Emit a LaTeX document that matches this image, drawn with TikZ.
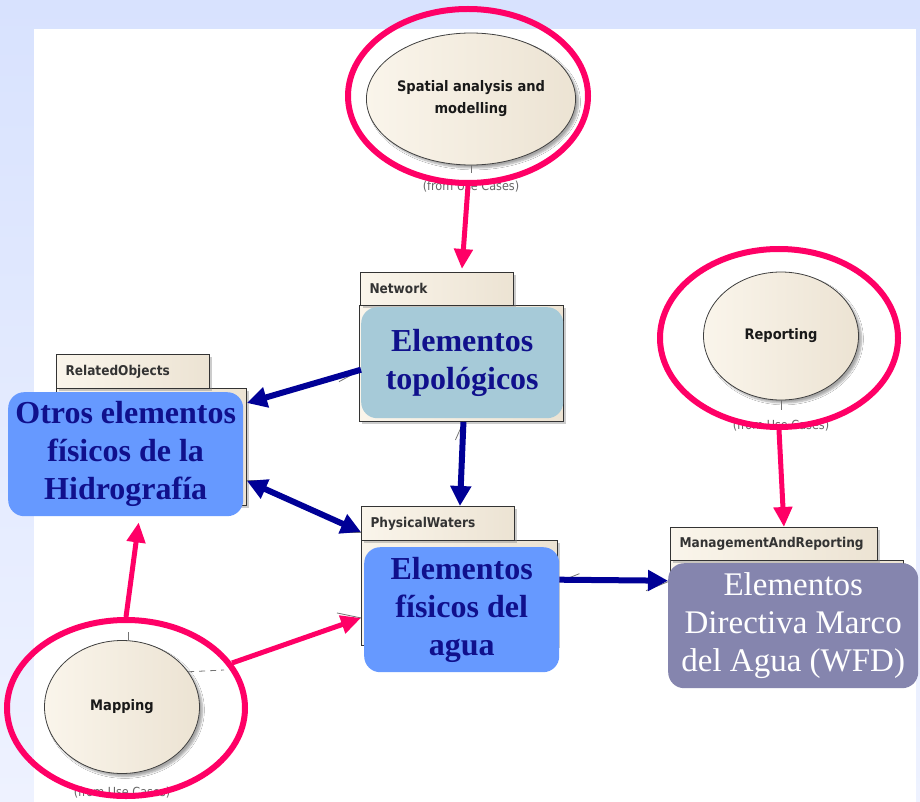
\documentclass[tikz,border=0pt]{standalone}
\usepackage{fontspec}
\setmainfont{Liberation Serif}
\newfontfamily\lblfont{DejaVu Sans Condensed}
\usetikzlibrary{shapes.geometric,arrows.meta,shadows,shadows.blur,calc}

\definecolor{bgtop}{RGB}{216,226,254}
\definecolor{bgbottom}{RGB}{238,242,255}
\definecolor{creamL}{RGB}{250,245,235}
\definecolor{creamR}{RGB}{236,227,211}
\definecolor{pkgL}{RGB}{250,245,235}
\definecolor{pkgR}{RGB}{236,227,211}
\definecolor{boxblue}{RGB}{102,153,255}
\definecolor{boxteal}{RGB}{166,202,216}
\definecolor{boxpurple}{RGB}{133,133,174}
\definecolor{navytext}{RGB}{16,16,140}
\definecolor{hotpink}{RGB}{255,0,102}
\definecolor{arrownavy}{RGB}{0,0,150}

\begin{document}
\begin{tikzpicture}[x=1pt,y=-1pt,
  usecase/.style={ellipse, draw=black!75, line width=0.8pt, left color=creamL, right color=creamR,
    inner sep=0pt, align=center, text=black!90, font=\lblfont\bfseries\fontsize{14.5}{22}\selectfont,
    blur shadow={shadow xshift=3pt, shadow yshift=-3pt, shadow blur steps=6, shadow opacity=35}},
  ring/.style={ellipse, draw=hotpink, line width=6pt, inner sep=0pt},
  pkgpart/.style={draw=black!80, line width=0.9pt, left color=pkgL, right color=pkgR,
    inner sep=0pt, anchor=north west,
    drop shadow={shadow xshift=3pt, shadow yshift=-3pt, opacity=0.4}},
  tabtext/.style={font=\lblfont\bfseries\fontsize{13.5}{16}\selectfont, text=black!80, anchor=west},
  hydrobox/.style={rounded corners=16pt, inner sep=0pt, anchor=north west, align=center,
    font=\bfseries\fontsize{32}{38}\selectfont, text=navytext},
  fromtext/.style={font=\lblfont\fontsize{12.5}{14}\selectfont, text=black!60, anchor=north},
  umlline/.style={draw=black!55, line width=0.8pt},
  navyarrow/.style={draw=arrownavy, line width=6pt, -{Triangle[length=20pt,width=20pt]}},
  navyboth/.style={draw=arrownavy, line width=6pt, {Triangle[length=20pt,width=20pt]}-{Triangle[length=20pt,width=20pt]}},
  pinkarrow/.style={draw=hotpink, line width=5pt, -{Triangle[length=20pt,width=18pt]}}
]
\useasboundingbox (0,0) rectangle (920,802);

% page background and white drawing area
\fill[top color=bgtop, bottom color=bgbottom] (0,0) rectangle (920,802);
\fill[white] (34,29) rectangle (916,802);

% packages: tab + body
\node[pkgpart, minimum width=190pt, minimum height=117pt] (relbody) at (56,388) {};
\node[pkgpart, minimum width=153pt, minimum height=34pt] (reltab) at (56,354) {};
\node[tabtext] at ([xshift=6pt]reltab.west) {RelatedObjects};

\node[pkgpart, minimum width=204pt, minimum height=116pt] (netbody) at (359,305) {};
\node[pkgpart, minimum width=153pt, minimum height=33pt] (nettab) at (360,272) {};
\node[tabtext] at ([xshift=6pt]nettab.west) {Network};

\node[pkgpart, minimum width=196pt, minimum height=105pt] (phybody) at (361,540) {};
\node[pkgpart, minimum width=153pt, minimum height=34pt] (phytab) at (361,506) {};
\node[tabtext] at ([xshift=6pt]phytab.west) {PhysicalWaters};

\node[pkgpart, minimum width=233pt, minimum height=110pt] (mgmtbody) at (670,560) {};
\node[pkgpart, minimum width=207pt, minimum height=33pt] (mgmttab) at (670,527) {};
\node[tabtext] at ([xshift=6pt]mgmttab.west) {ManagementAndReporting};

% coloured boxes laid over the packages
\node[hydrobox, fill=boxblue, minimum width=235pt, minimum height=124pt] (relbox) at (8,392)
  {Otros elementos\\físicos de la\\Hidrografía};
\node[hydrobox, fill=boxteal, minimum width=202pt, minimum height=111pt] (topo) at (361,307)
  {Elementos\\topológicos};
\node[hydrobox, fill=boxblue, minimum width=195pt, minimum height=125pt] (physbox) at (364,547)
  {Elementos\\físicos del\\agua};
\node[hydrobox, fill=boxpurple, minimum width=250pt, minimum height=125pt, text=white,
  font=\fontsize{33}{38}\selectfont] (wfd) at (668,563)
  {Elementos\\Directiva Marco\\del Agua (WFD)};

% use cases
\node[usecase, minimum width=154pt, minimum height=132pt] (spatial) at (471,99)
  {Spatial analysis and\\modelling};
\node[usecase, minimum width=155pt, minimum height=128pt] (report) at (781,336) {Reporting};
\node[usecase, minimum width=155pt, minimum height=133pt] (mapping) at (122,707) {Mapping};

\draw[umlline] (spatial.south) -- ++(0,8);
\draw[umlline] (report.south) -- ++(0,10);
\draw[umlline] ([xshift=6pt]mapping.north) -- ++(0,-8);
\coordinate (mapdash) at (224,670);
\draw[umlline, dashed, dash pattern=on 6pt off 5pt] (mapping.28) -- (mapdash);

\node[fromtext] (spatialfrom) at ([yshift=-12pt]spatial.south) {(from Use Cases)};
\node[fromtext] (reportfrom) at ([yshift=-16pt]report.south) {(from Use Cases)};
\node[fromtext] (mappingfrom) at ([yshift=-10pt]mapping.south) {(from Use Cases)};

% dependency arrowheads left from the model
\draw[umlline] ([yshift=-7pt]topo.west) -- ++(-22,12);
\draw[umlline] ([yshift=-26pt]phytab.north west) -- ++(-22,0);
\draw[umlline] ([yshift=-25pt]phybody.west) -- ++(-24,-5);
\draw[umlline] ([yshift=28pt]physbox.east) -- ++(20,-8);
\draw[umlline] ([yshift=26pt]relbody.south east) -- ++(22,0);
\draw[umlline] ([xshift=2pt]netbody.south) -- ++(-8,18);
\draw[umlline] ([yshift=44pt]wfd.west) -- ++(-22,9);

% relations between packages
\draw[navyarrow] ([yshift=-7pt]topo.west) -- ([yshift=-15pt]relbody.north east);
\draw[navyboth] ([yshift=25pt]relbody.south east) -- ([yshift=-26pt]phytab.north west);
\draw[navyarrow] ([xshift=2pt]netbody.south) -- ([xshift=22pt]phytab.north);
\draw[navyarrow] ([yshift=30pt]physbox.east) -- ([yshift=45pt]wfd.west);

% highlight rings
\node[ring, minimum width=240pt, minimum height=174pt] (spatialring) at (468,96) {};
\node[ring, minimum width=238pt, minimum height=178pt] (reportring) at (779,338) {};
\node[ring, minimum width=238pt, minimum height=176pt] (mapring) at (126,708) {};

\draw[pinkarrow] (spatialring.south) -- ([xshift=25pt,yshift=3pt]nettab.north);
\draw[pinkarrow] (reportring.south) -- ([xshift=10pt]mgmttab.north);
\draw[pinkarrow] (mapring.north) -- ([xshift=13pt,yshift=-6pt]relbox.south);
\draw[pinkarrow] (mapring.23) -- ([yshift=-25pt]phybody.west);
\end{tikzpicture}
\end{document}
